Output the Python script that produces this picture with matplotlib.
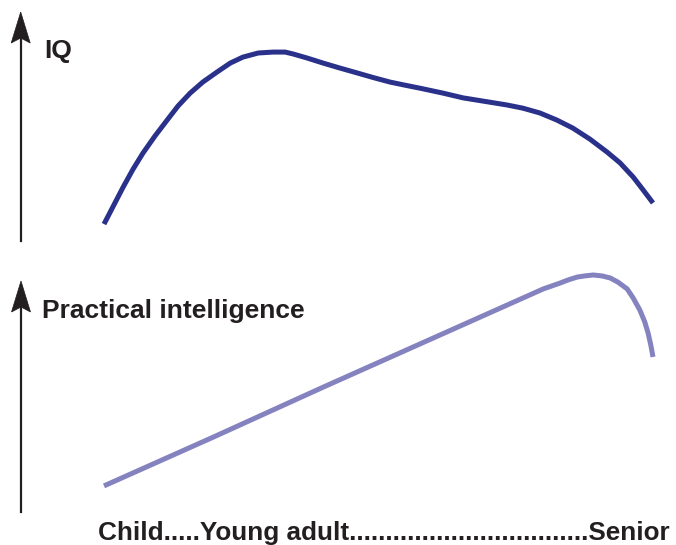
import matplotlib
matplotlib.use("Agg")
import matplotlib.pyplot as plt
from matplotlib.patches import Polygon

# ---- data (age position 0..100, relative level) ----
iq_age = [0, 1.6, 3.5, 5.3, 7.1, 9.3, 11.5, 13.5, 15.7, 18.0, 20.6, 23.0, 25.3,
          28.1, 30.8, 33.0, 34.4, 37.0, 39.9, 43.0, 46.1, 49.0, 52.1, 54.5,
          57.6, 61.7, 65.4, 69.8, 73.4, 76.3, 79.4, 82.5, 85.4, 88.5, 91.6,
          94.0, 96.4, 98.2, 100]
iq_val = [7.4, 14.8, 23.6, 31.4, 38.4, 45.9, 52.8, 59.0, 64.6, 69.4, 73.8, 77.7,
          80.3, 82.1, 82.5, 82.5, 81.7, 79.9, 77.7, 75.5, 73.4, 71.4, 69.4, 68.2,
          66.7, 64.6, 62.5, 60.8, 59.4, 58.0, 55.9, 52.8, 49.3, 44.5, 38.9,
          34.1, 27.9, 22.3, 16.6]

pi_age = [0, 20, 40, 60, 80, 83.1, 84.5, 86.2, 87.6, 89.1, 90.7, 92.2, 93.6,
          95.3, 96.4, 97.6, 98.5, 99.1, 99.6, 100]
pi_val = [11.4, 32.8, 54.6, 76.0, 97.4, 100.0, 101.3, 102.6, 103.1, 103.5,
          103.1, 102.2, 100.4, 97.4, 93.4, 88.2, 83.0, 78.2, 72.9, 67.7]

top_label = "IQ"
bottom_label = "Practical intelligence"
x_label = "Child.....Young adult" + "." * 33 + "Senior"

W, H = 676, 545
plt.rcParams['font.family'] = ['Liberation Sans', 'DejaVu Sans']
fig = plt.figure(figsize=(W / 100, H / 100), dpi=100)

def px_axes(x0, x1, y_bottom, y_top):
    return fig.add_axes([x0 / W, 1 - y_bottom / H, (x1 - x0) / W, (y_bottom - y_top) / H])

ax1 = px_axes(104, 653, 241, 12)
ax2 = px_axes(104, 653, 512, 283)

for ax in (ax1, ax2):
    ax.set_xlim(0, 100)
    ax.set_ylim(0, 100)
    ax.axis('off')

ax1.plot(iq_age, iq_val, color='#29318a', lw=3.6, solid_capstyle='butt',
         solid_joinstyle='round', clip_on=False)
ax2.plot(pi_age, pi_val, color='#8483c0', lw=3.6, solid_capstyle='butt',
         solid_joinstyle='round', clip_on=False)

INK = '#231f20'

def vertical_arrow(x, y_bottom, y_top):
    # shaft
    fig.add_artist(plt.Line2D([x / W, x / W], [1 - y_bottom / H, 1 - (y_top + 25) / H],
                              transform=fig.transFigure, color=INK, lw=1.6))
    head = [(x, y_top), (x + 9.5, y_top + 31), (x, y_top + 26), (x - 9.5, y_top + 31)]
    head = [(px / W, 1 - py / H) for px, py in head]
    fig.add_artist(Polygon(head, closed=True, transform=fig.transFigure,
                           facecolor=INK, edgecolor=INK, lw=0.5))

vertical_arrow(20.7, 241, 12)
vertical_arrow(21, 512, 281)

def ftext(x, y, s, size=19):
    fig.text(x / W, 1 - y / H, s, fontsize=size, fontweight='bold',
             color=INK, ha='left', va='baseline')

ftext(44, 58, top_label)
ftext(42, 318, bottom_label)
ftext(98, 540, x_label, size=18.85)

fig.savefig("out.png", dpi=100)
